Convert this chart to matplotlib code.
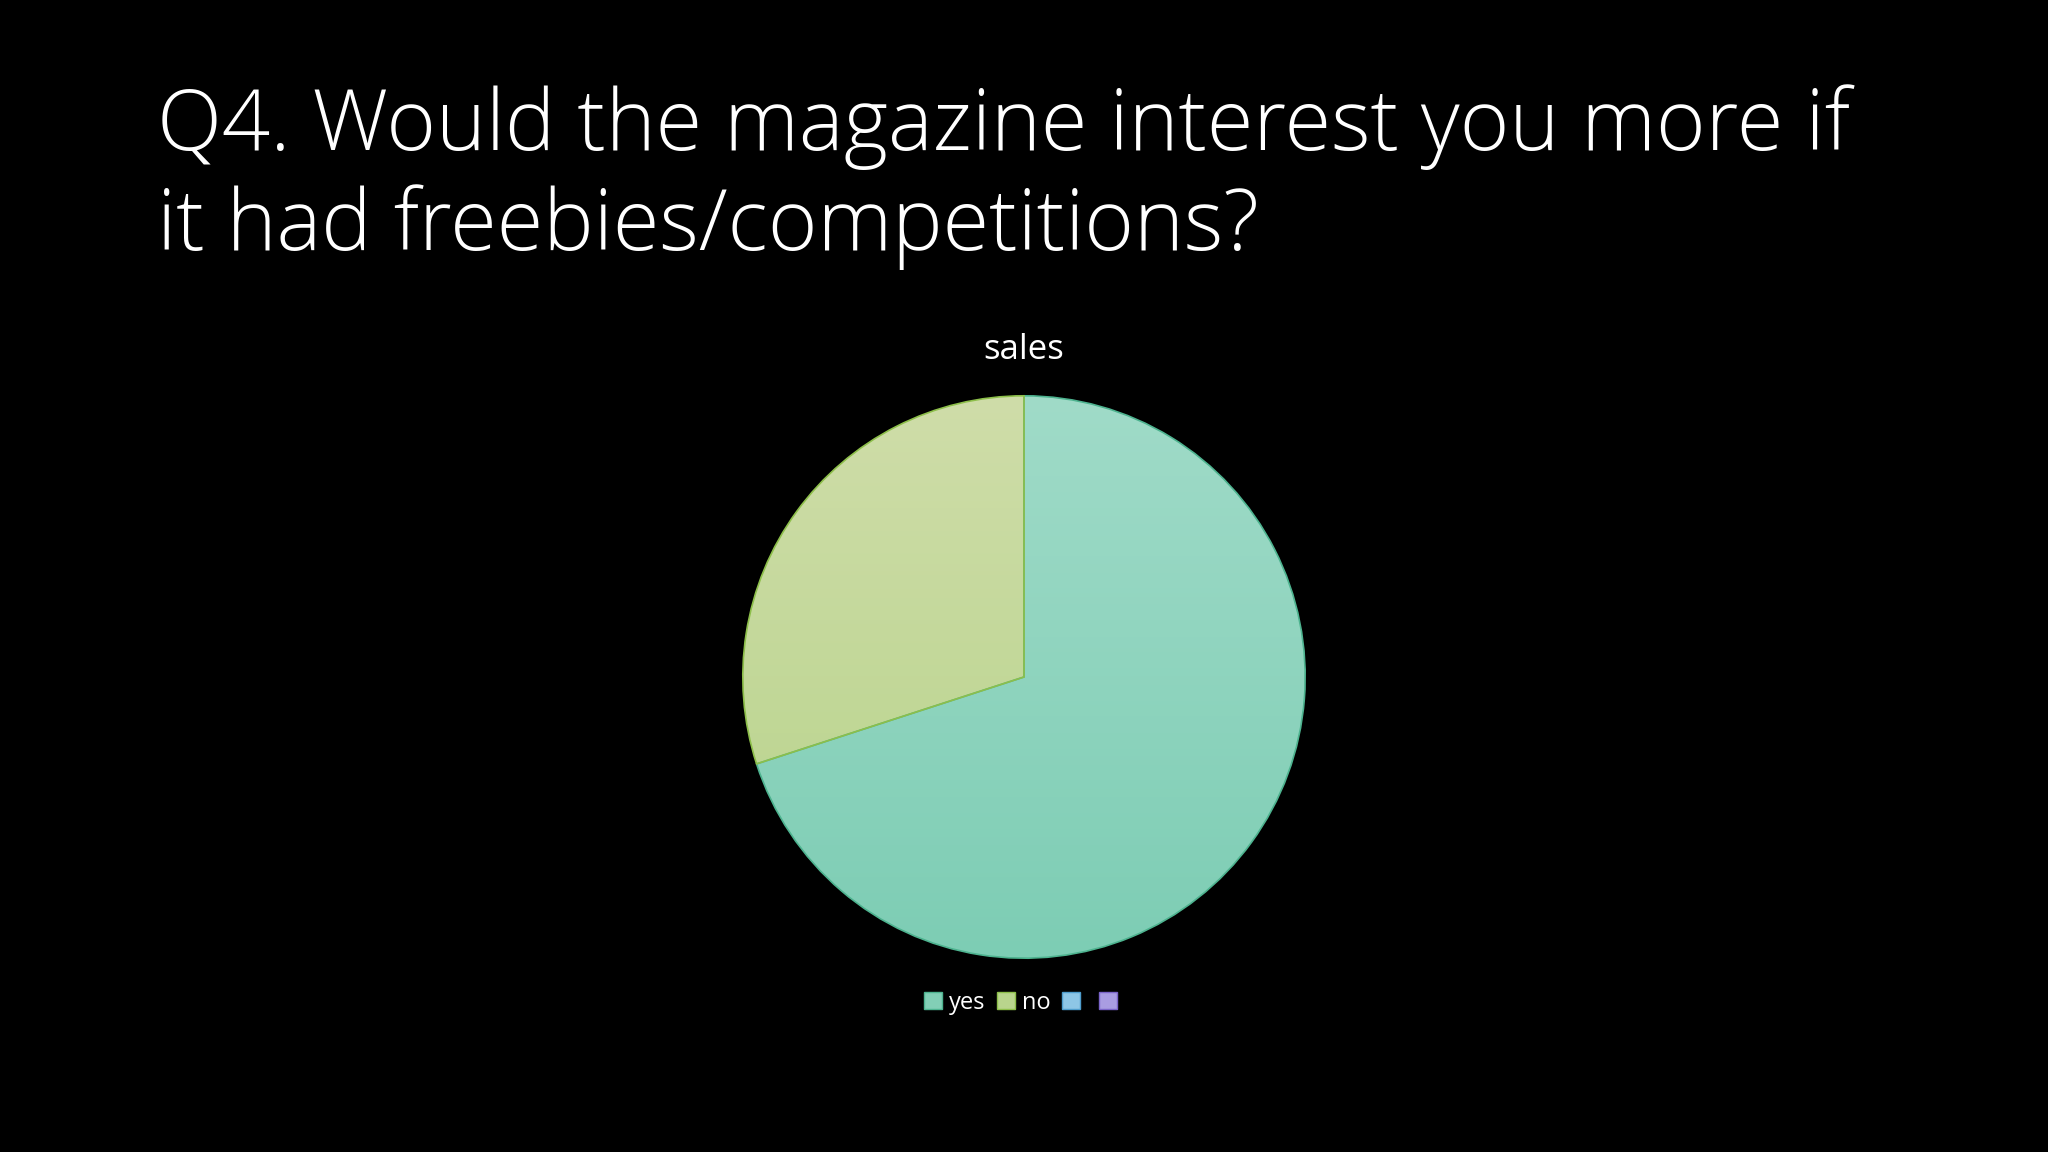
import matplotlib
matplotlib.use("Agg")
import matplotlib.pyplot as plt
from matplotlib.patches import Patch
import numpy as np

# Survey data
labels = ["yes", "no", "", ""]
sales = [70, 30, 0, 0]

# Slide colours (top / bottom of gradient, legend swatch, edge)
top_colors = ["#a0dbc8", "#cfdda9"]
bottom_colors = ["#7dcdb4", "#b6d389"]
swatch_colors = ["#82cfb6", "#b9d58d", "#8ec6e6", "#a99de2"]
edge_colors = ["#4db38f", "#8dbf4a", "#4e9ccc", "#7a64c8"]

plt.rcParams['font.family'] = ['Open Sans', 'DejaVu Sans']

fig = plt.figure(figsize=(20.48, 11.52), dpi=100, facecolor="black")

# Title
fig.text(157 / 2048, 1 - 150 / 1152, "Q4. Would the magazine interest you more if",
         color="white", fontsize=61, fontweight="light", ha="left", va="baseline")
fig.text(157 / 2048, 1 - 250 / 1152, "it had freebies/competitions?",
         color="white", fontsize=61, fontweight="light", ha="left", va="baseline")

# Pie
r_px = 284
cx, cy = 1024, 677
ax = fig.add_axes([(cx - r_px) / 2048, 1 - (cy + r_px) / 1152,
                   2 * r_px / 2048, 2 * r_px / 1152])
ax.set_facecolor("black")
wedges, _ = ax.pie(sales, startangle=90, counterclock=False, radius=1,
                   colors=swatch_colors, wedgeprops=dict(linewidth=1.2))

# vertical gradient fill clipped to each slice
for i, w in enumerate(wedges[:2]):
    w.set_edgecolor(edge_colors[i])
    t = np.array(matplotlib.colors.to_rgb(top_colors[i]))
    b = np.array(matplotlib.colors.to_rgb(bottom_colors[i]))
    k = np.linspace(0, 1, 256)[:, None]
    grad = (t * (1 - k) + b * k)[:, None, :]
    im = ax.imshow(grad, extent=(-1, 1, -1, 1), aspect="auto", zorder=w.get_zorder())
    im.set_clip_path(w)
    w.set_facecolor("none")
    w.set_zorder(w.get_zorder() + 1)
for w in wedges[2:]:
    w.set_visible(False)
ax.set_xlim(-1.01, 1.01)
ax.set_ylim(-1.01, 1.01)
ax.set_aspect("equal")
ax.axis("off")

# Chart title
fig.text(1024 / 2048, 1 - 350 / 1152, "sales", color="white", fontsize=25,
         ha="center", va="center")

# Legend
handles = [Patch(facecolor=swatch_colors[i], edgecolor=edge_colors[i], label=labels[i])
           for i in range(4)]
leg = fig.legend(handles=handles, loc="center", bbox_to_anchor=(1024 / 2048, 1 - 1003 / 1152),
                 ncol=4, frameon=False, fontsize=17, labelcolor="white",
                 handlelength=0.75, handleheight=0.75, handletextpad=0.3, columnspacing=0.5)

fig.savefig("out.png", dpi=100, facecolor="black")
